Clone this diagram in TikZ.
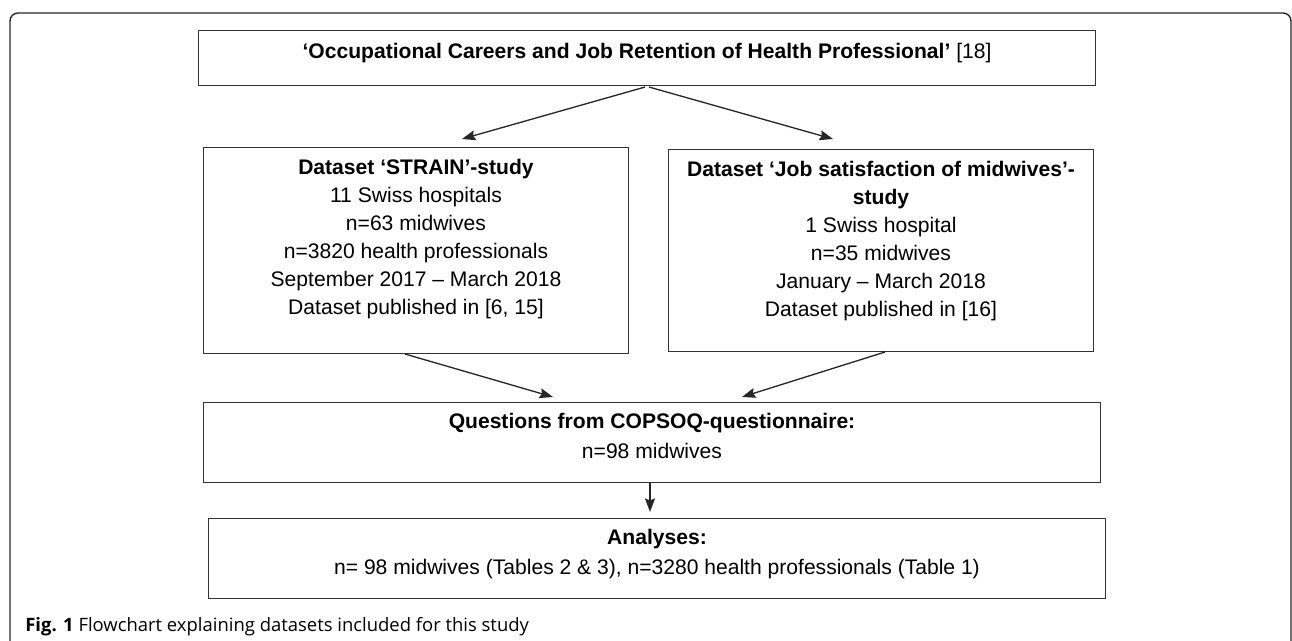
\documentclass[tikz,border=0pt]{standalone}
\usepackage{fontspec}
\setmainfont{Liberation Sans}
\newfontfamily\capfont{Open Sans}
\usetikzlibrary{arrows.meta,calc}

\tikzset{plainbox/.style={draw=black!80,line width=0.6pt,inner sep=0pt,align=center,
    minimum width=17.96cm,anchor=north,font=\fontsize{12}{15.9}\selectfont},
  pointer/.style={-{Stealth[length=0.27cm,width=0.2cm,inset=0.04cm]},line width=0.75pt,black!85}}

\begin{document}
\begin{tikzpicture}[x=0.02cm,y=-0.02cm]
\useasboundingbox (0,0) rectangle (1292,641);
\draw[black!85,line width=0.8pt,rounded corners=0.16cm] (10,641) -- (10,13) -- (1291,13) -- (1291,641);

\node[plainbox,text height=0.56cm,text depth=0.54cm] (source) at (647,30)
  {\textbf{‘Occupational Careers and Job Retention of Health Professional’} [18]};
\node[plainbox,minimum width=8.52cm,text height=3.34cm,text depth=0.78cm] (strain) at (416,147)
  {\textbf{Dataset ‘STRAIN’-study}\\11 Swiss hospitals\\n=63 midwives\\n=3820 health professionals\\
   September 2017 – March 2018\\Dataset published in [6, 15]};
\node[plainbox,minimum width=8.52cm,text height=3.34cm,text depth=0.7cm] (midwives) at (881,149)
  {\textbf{Dataset ‘Job satisfaction of midwives’-}\\\textbf{study}\\1 Swiss hospital\\n=35 midwives\\
   January – March 2018\\Dataset published in [16]};
\node[plainbox,text height=1.12cm,text depth=0.48cm] (copsoq) at (652,402)
  {\textbf{Questions from COPSOQ-questionnaire:}\\[1pt]n=98 midwives};
\node[plainbox,text height=1.12cm,text depth=0.48cm] (analyses) at (657,518)
  {\textbf{Analyses:}\\[1pt]n= 98 midwives (Tables 2 \& 3), n=3280 health professionals (Table 1)};

% arrows
\draw[pointer] ($(source.south)+(-2,1)$) -- ($(strain.north)+(46,-8)$);
\draw[pointer] ($(source.south)+(2,1)$) -- ($(midwives.north)+(-48,-10)$);
\draw[pointer] ($(strain.south)+(-11,0)$) -- ($(copsoq.north)+(-99,-5)$);
\draw[pointer] ($(midwives.south)+(4,0)$) -- ($(copsoq.north)+(90,-5)$);
\draw[pointer] ($(copsoq.south)+(-2,0)$) -- ($(copsoq.south |- analyses.north)+(-2,-6)$);

\node[anchor=base west,inner sep=0pt,font=\capfont\fontsize{10.5}{12}\selectfont] (caption) at (25,632)
  {\textbf{Fig. 1} Flowchart explaining datasets included for this study};
\end{tikzpicture}
\end{document}
